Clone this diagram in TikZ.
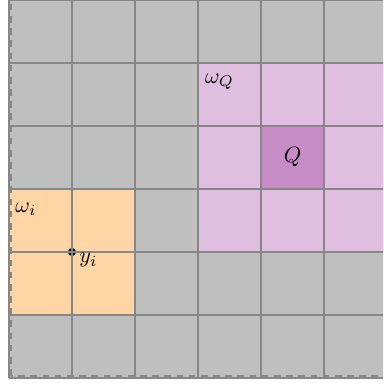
\documentclass[tikz,border=0pt]{standalone}
\usepackage{xcolor}
\usepackage{tikz}
\usepackage{amsmath}
\usetikzlibrary{positioning}
\definecolor{cellgray}{HTML}{BFBFBF}
\definecolor{linegray}{HTML}{878787}
\definecolor{patchorange}{HTML}{FFD5A5}
\definecolor{patchpink}{HTML}{E0BEE0}
\definecolor{cellpurple}{HTML}{C78BC5}

\begin{document}
\begin{tikzpicture}[
    gridline/.style={draw=linegray, line width=0.9pt},
    border/.style={draw=linegray, line width=0.9pt, dashed, dash pattern=on 3pt off 2.5pt},
    lbl/.style={inner sep=0pt, font=\normalsize},
    pt/.style={circle, fill=black, inner sep=1.3pt},
  ]
    \useasboundingbox (-0.143,-0.127) rectangle (5.937,6.0);
    \clip (-0.143,-0.127) rectangle (5.937,6.0);

    % cells
    \fill[cellgray] (0,0) rectangle (7,7);
    \fill[patchorange] (0,1) rectangle (2,3);
    \fill[patchpink] (3,2) rectangle (7,5);
    \fill[cellpurple] (4,3) rectangle (5,4);

    \node[pt] (yi) at (1,2) {};

    \draw[gridline] (0,0) grid (7,7);
    \draw[border] (0.035,0.035) rectangle (7,7);

    % labels
    \node[lbl] (wi) at (0.27,2.68) {$\omega_i$};
    \node[lbl] (wq) at (3.34,4.70) {$\omega_Q$};
    \node[lbl] (q)  at (4.5,3.5)   {$Q$};
    \node[lbl] (yilbl) at (1.26,1.87) {$y_i$};
  \end{tikzpicture}
\end{document}
